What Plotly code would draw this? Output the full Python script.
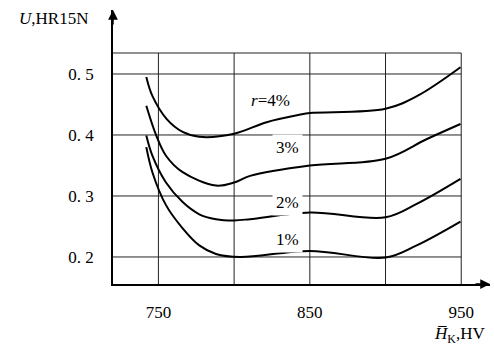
import plotly.graph_objects as go

# Data
hk_4 = [742, 746, 755.5, 766, 777, 800, 821.5, 843, 850, 900, 921, 949.5]
u_4 = [0.495, 0.464, 0.426, 0.405, 0.397, 0.402, 0.421, 0.433, 0.436, 0.443, 0.464, 0.511]

hk_3 = [742, 748.6, 755, 766, 788, 800, 810.5, 850, 900, 927, 949.5]
u_3 = [0.448, 0.399, 0.366, 0.339, 0.317, 0.322, 0.333, 0.350, 0.361, 0.393, 0.418]

hk_2 = [742, 746, 755, 766, 777, 788, 800, 810.5, 850, 900, 920.6, 949.5]
u_2 = [0.399, 0.366, 0.322, 0.290, 0.270, 0.262, 0.260, 0.262, 0.273, 0.265, 0.287, 0.328]

hk_1 = [742, 746, 755, 766, 777, 788, 804, 850, 900, 920.6, 949.5]
u_1 = [0.380, 0.339, 0.285, 0.247, 0.219, 0.205, 0.200, 0.210, 0.199, 0.219, 0.258]

x_ticks = [750, 850, 950]
x_grid = [750, 800, 850, 900, 950]
y_ticks = [0.2, 0.3, 0.4, 0.5]
y_ticklabels = ["0. 2", "0. 3", "0. 4", "0. 5"]
y_grid_top = 0.5344

curve_labels = ["<i>r</i>=4%", "3%", "2%", "1%"]
label_x = [824, 835, 835, 835]
label_y = [0.456, 0.380, 0.290, 0.228]

x_min, x_max = 720, 969
y_min, y_max = 0.1557, 0.6049

FONT = "Liberation Serif, DejaVu Serif, serif"

fig = go.Figure()
for xs, ys in [(hk_4, u_4), (hk_3, u_3), (hk_2, u_2), (hk_1, u_1)]:
    fig.add_trace(go.Scatter(x=xs, y=ys, mode="lines",
                             line=dict(color="black", width=2, shape="spline", smoothing=1.0),
                             showlegend=False, hoverinfo="skip"))

shapes = []
for gx in x_grid:
    shapes.append(dict(type="line", xref="x", yref="y", x0=gx, x1=gx, y0=y_min, y1=y_grid_top,
                       line=dict(color="#222", width=1), layer="below"))
for gy in y_ticks + [y_grid_top]:
    shapes.append(dict(type="line", xref="x", yref="y", x0=x_min, x1=x_grid[-1], y0=gy, y1=gy,
                       line=dict(color="#222", width=1), layer="below"))

annotations = []
for t, lx, ly in zip(curve_labels, label_x, label_y):
    annotations.append(dict(x=lx, y=ly, xref="x", yref="y", text=t, showarrow=False,
                            font=dict(family=FONT, size=17, color="black"),
                            bgcolor="white", borderpad=3))
# axis arrows
annotations.append(dict(x=x_min, y=y_max, xref="x", yref="y", ax=0, ay=16, text="",
                        showarrow=True, arrowhead=2, arrowsize=1.3, arrowwidth=1.5, arrowcolor="black"))
annotations.append(dict(x=x_max, y=y_min, xref="x", yref="y", ax=-16, ay=0, text="",
                        showarrow=True, arrowhead=2, arrowsize=1.3, arrowwidth=1.5, arrowcolor="black"))
# axis titles
annotations.append(dict(x=0, y=1.0, xref="paper", yref="paper", xanchor="right", yanchor="middle",
                        xshift=-23, yshift=-8, text="<i>U</i>,HR15N", showarrow=False,
                        font=dict(family=FONT, size=17, color="black")))
annotations.append(dict(x=1.0, y=-0.186, xref="paper", yref="paper", xanchor="right", yanchor="middle",
                        xshift=-3, text="<i>H\u0305</i><sub>K</sub>,HV", showarrow=False,
                        font=dict(family=FONT, size=17, color="black")))

fig.update_layout(
    width=494, height=356,
    margin=dict(l=113, r=4, t=10, b=72),
    paper_bgcolor="white", plot_bgcolor="white",
    font=dict(family=FONT, size=16, color="black"),
    shapes=shapes, annotations=annotations,
    xaxis=dict(range=[x_min, x_max], tickvals=x_ticks, ticktext=[str(v) for v in x_ticks],
               showgrid=False, zeroline=False, showline=True, linecolor="black", linewidth=1.5,
               ticks="", ticklabelstandoff=12, automargin=False,
               tickfont=dict(family=FONT, size=17, color="black")),
    yaxis=dict(range=[y_min, y_max], tickvals=y_ticks, ticktext=y_ticklabels,
               showgrid=False, zeroline=False, showline=True, linecolor="black", linewidth=1.5,
               ticks="", ticklabelstandoff=14, automargin=False,
               tickfont=dict(family=FONT, size=17, color="black")),
)

fig.write_html("out.html", config={"displayModeBar": False},
               post_script="document.body.style.margin='0';")
